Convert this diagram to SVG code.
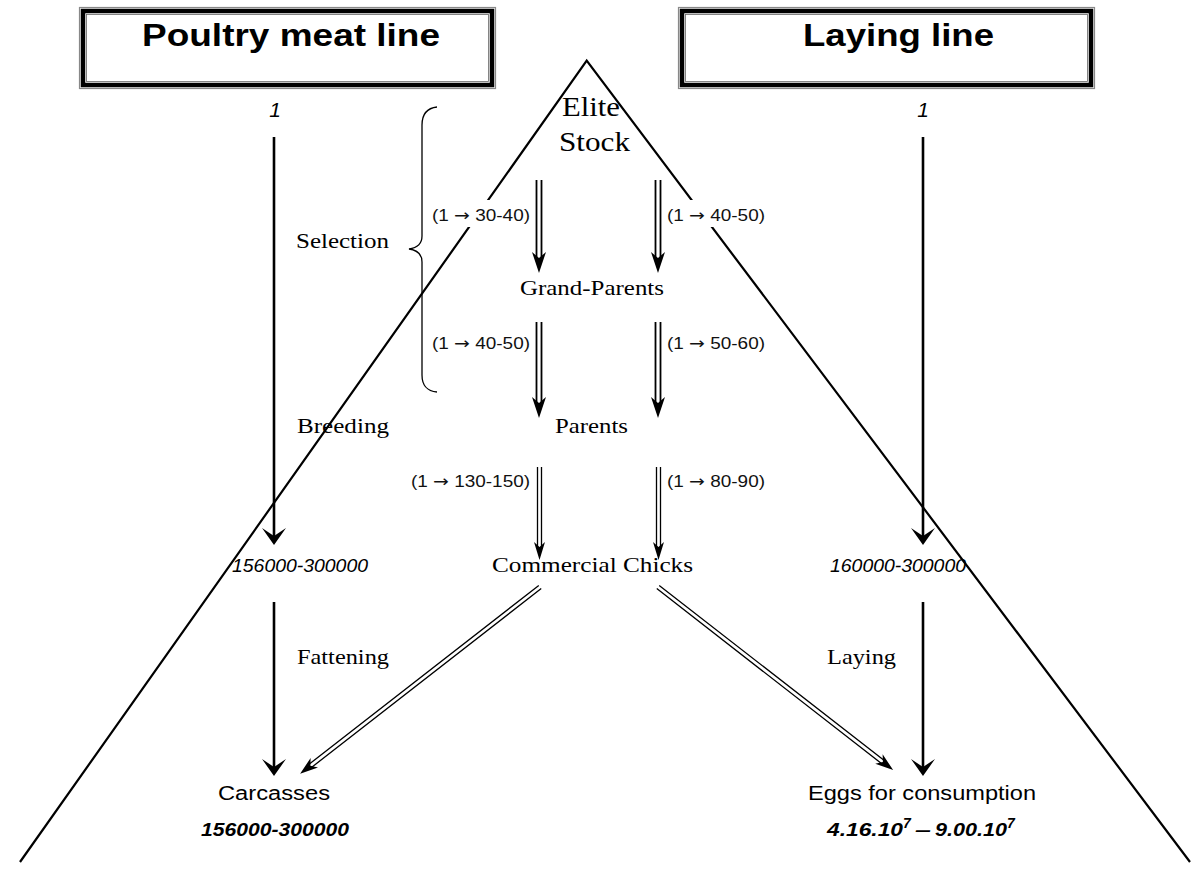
<svg xmlns="http://www.w3.org/2000/svg" width="1204" height="872" viewBox="0 0 1204 872">
<style>
.title{font-family:"Liberation Sans",Arial,sans-serif;font-weight:bold;font-size:32px;fill:#000}
.serif{font-family:"Liberation Serif","Times New Roman",serif;font-size:22px;fill:#000}
.big{font-family:"Liberation Serif","Times New Roman",serif;font-size:28px;fill:#000}
.lab{font-family:"Liberation Sans",Arial,sans-serif;font-size:16px;fill:#111}
.arr{font-family:"DejaVu Sans",sans-serif}
.num{font-family:"Liberation Sans",Arial,sans-serif;font-style:italic;font-size:18px;fill:#000}
.one{font-family:"Liberation Sans",Arial,sans-serif;font-style:italic;font-size:21px;fill:#000}
.numb{font-family:"Liberation Sans",Arial,sans-serif;font-style:italic;font-weight:bold;font-size:19px;fill:#000}
.prod{font-family:"Liberation Sans",Arial,sans-serif;font-size:20px;fill:#000}
.tri{fill:none;stroke:#000;stroke-width:2.2}
.single{stroke:#000;stroke-width:2.6;fill:none}
.dbl{stroke:#000;stroke-width:1.8;fill:none}
.dbl2{stroke:#000;stroke-width:1.3;fill:none}
.head{fill:#000}
.brace{fill:none;stroke:#000;stroke-width:1.3}
.bg{fill:#fff}
</style>
<defs>
<path id="sh" d="M-12,-17 L0,0 L12,-17 L0,-9 Z"/>
</defs>
<rect width="1204" height="872" fill="#fff"/>

<g id="pyramid">
<path class="tri" d="M20,862 L586.7,60.7 L1190,862"/>
<rect class="bg" x="430" y="200" width="102" height="27"/>
<rect class="bg" x="665" y="200" width="102" height="27"/>
</g>

<g id="poultry-box">
<rect x="79.5" y="7.5" width="416" height="81" fill="#fff" stroke="#888" stroke-width="1.2"/>
<rect x="83" y="11" width="409" height="74" fill="none" stroke="#000" stroke-width="4.5"/>
<rect x="86.5" y="14.5" width="402" height="67" fill="none" stroke="#666" stroke-width="0.8"/>
<text class="title" x="142" y="46" textLength="298" lengthAdjust="spacingAndGlyphs">Poultry meat line</text>
</g>
<g id="laying-box">
<rect x="678.5" y="7.5" width="416" height="81" fill="#fff" stroke="#888" stroke-width="1.2"/>
<rect x="682" y="11" width="409" height="74" fill="none" stroke="#000" stroke-width="4.5"/>
<rect x="685.5" y="14.5" width="402" height="67" fill="none" stroke="#666" stroke-width="0.8"/>
<text class="title" x="803" y="46" textLength="191" lengthAdjust="spacingAndGlyphs">Laying line</text>
</g>

<g id="brace">
<path class="brace" d="M437,107 C428,108 422,113 422,125 L422,236 C422,244 416,248 409,249 C416,250 422,254 422,262 L422,375 C422,387 428,391 437,392"/>
</g>

<g id="connectors">
<line class="single" x1="274" y1="137" x2="274" y2="536"/>
<use href="#sh" x="274" y="545" class="head"/>
<line class="single" x1="274" y1="602" x2="274" y2="767"/>
<use href="#sh" x="274" y="776" class="head"/>
<line class="single" x1="923" y1="137" x2="923" y2="536"/>
<use href="#sh" x="923" y="545" class="head"/>
<line class="single" x1="923" y1="602" x2="923" y2="767"/>
<use href="#sh" x="923" y="776" class="head"/>

<path class="dbl" d="M536.5,180 V259 M541.5,180 V259"/>
<path class="head" d="M532,252 L539,273 L546,252 L539,258 Z"/>
<path class="dbl" d="M655.5,180 V259 M660.5,180 V259"/>
<path class="head" d="M651,252 L658,273 L665,252 L658,258 Z"/>
<path class="dbl" d="M536.5,322 V404 M541.5,322 V404"/>
<path class="head" d="M532,397 L539,418 L546,397 L539,403 Z"/>
<path class="dbl" d="M655.5,322 V404 M660.5,322 V404"/>
<path class="head" d="M651,397 L658,418 L665,397 L658,403 Z"/>
<path class="dbl2" d="M537.5,467 V549 M541.5,467 V549"/>
<path class="head" d="M534,542 L539.5,560 L545,542 L539.5,547 Z"/>
<path class="dbl2" d="M656.5,467 V549 M660.5,467 V549"/>
<path class="head" d="M653,542 L658.5,560 L664,542 L658.5,547 Z"/>
<g transform="translate(540,587) rotate(142.1)">
<path class="dbl2" d="M0,-2 H292 M0,2 H292"/>
<path class="head" d="M286,-6 L304,0 L286,6 L291,0 Z"/>
</g>
<g transform="translate(658,587) rotate(37.9)">
<path class="dbl2" d="M0,-2 H286 M0,2 H286"/>
<path class="head" d="M280,-6 L298,0 L280,6 L285,0 Z"/>
</g>
</g>

<g id="elite-stock">
<text class="big" x="562" y="116" textLength="58" lengthAdjust="spacingAndGlyphs">Elite</text>
<text class="big" x="559" y="151" textLength="71" lengthAdjust="spacingAndGlyphs">Stock</text>
</g>
<g id="grand-parents"><text class="serif" x="520" y="295" textLength="144" lengthAdjust="spacingAndGlyphs">Grand-Parents</text></g>
<g id="parents"><text class="serif" x="555" y="433" textLength="73" lengthAdjust="spacingAndGlyphs">Parents</text></g>
<g id="commercial-chicks"><text class="serif" x="492" y="572" textLength="201" lengthAdjust="spacingAndGlyphs">Commercial Chicks</text></g>

<g id="stage-labels">
<text class="serif" x="296" y="248" textLength="93" lengthAdjust="spacingAndGlyphs">Selection</text>
<text class="serif" x="297" y="433" textLength="92" lengthAdjust="spacingAndGlyphs">Breeding</text>
<text class="serif" x="297" y="664" textLength="92" lengthAdjust="spacingAndGlyphs">Fattening</text>
<text class="serif" x="827" y="664" textLength="69" lengthAdjust="spacingAndGlyphs">Laying</text>
</g>

<g id="ratio-labels">
<text class="lab" x="432" y="221" textLength="98" lengthAdjust="spacingAndGlyphs">(1 <tspan class="arr">→</tspan> 30-40)</text>
<text class="lab" x="667" y="221" textLength="98" lengthAdjust="spacingAndGlyphs">(1 <tspan class="arr">→</tspan> 40-50)</text>
<text class="lab" x="432" y="349" textLength="98" lengthAdjust="spacingAndGlyphs">(1 <tspan class="arr">→</tspan> 40-50)</text>
<text class="lab" x="667" y="349" textLength="98" lengthAdjust="spacingAndGlyphs">(1 <tspan class="arr">→</tspan> 50-60)</text>
<text class="lab" x="411" y="487" textLength="119" lengthAdjust="spacingAndGlyphs">(1 <tspan class="arr">→</tspan> 130-150)</text>
<text class="lab" x="667" y="487" textLength="98" lengthAdjust="spacingAndGlyphs">(1 <tspan class="arr">→</tspan> 80-90)</text>
</g>

<g id="meat-counts">
<text class="one" x="275" y="117" text-anchor="middle">1</text>
<text class="num" x="232" y="572" textLength="136" lengthAdjust="spacingAndGlyphs">156000-300000</text>
</g>
<g id="laying-counts">
<text class="one" x="923" y="117" text-anchor="middle">1</text>
<text class="num" x="830" y="572" textLength="136" lengthAdjust="spacingAndGlyphs">160000-300000</text>
</g>

<g id="carcasses">
<text class="prod" x="218" y="800" textLength="112" lengthAdjust="spacingAndGlyphs">Carcasses</text>
<text class="numb" x="201" y="836" textLength="148" lengthAdjust="spacingAndGlyphs">156000-300000</text>
</g>
<g id="eggs">
<text class="prod" x="808" y="800" textLength="228" lengthAdjust="spacingAndGlyphs">Eggs for consumption</text>
<text class="numb" x="827" y="836" textLength="76" lengthAdjust="spacingAndGlyphs">4.16.10</text>
<text class="numb" x="903" y="828" style="font-size:14px">7</text>
<text class="numb" x="915" y="836" textLength="16" lengthAdjust="spacingAndGlyphs">–</text>
<text class="numb" x="935" y="836" textLength="72" lengthAdjust="spacingAndGlyphs">9.00.10</text>
<text class="numb" x="1007" y="828" style="font-size:14px">7</text>
</g>
</svg>
